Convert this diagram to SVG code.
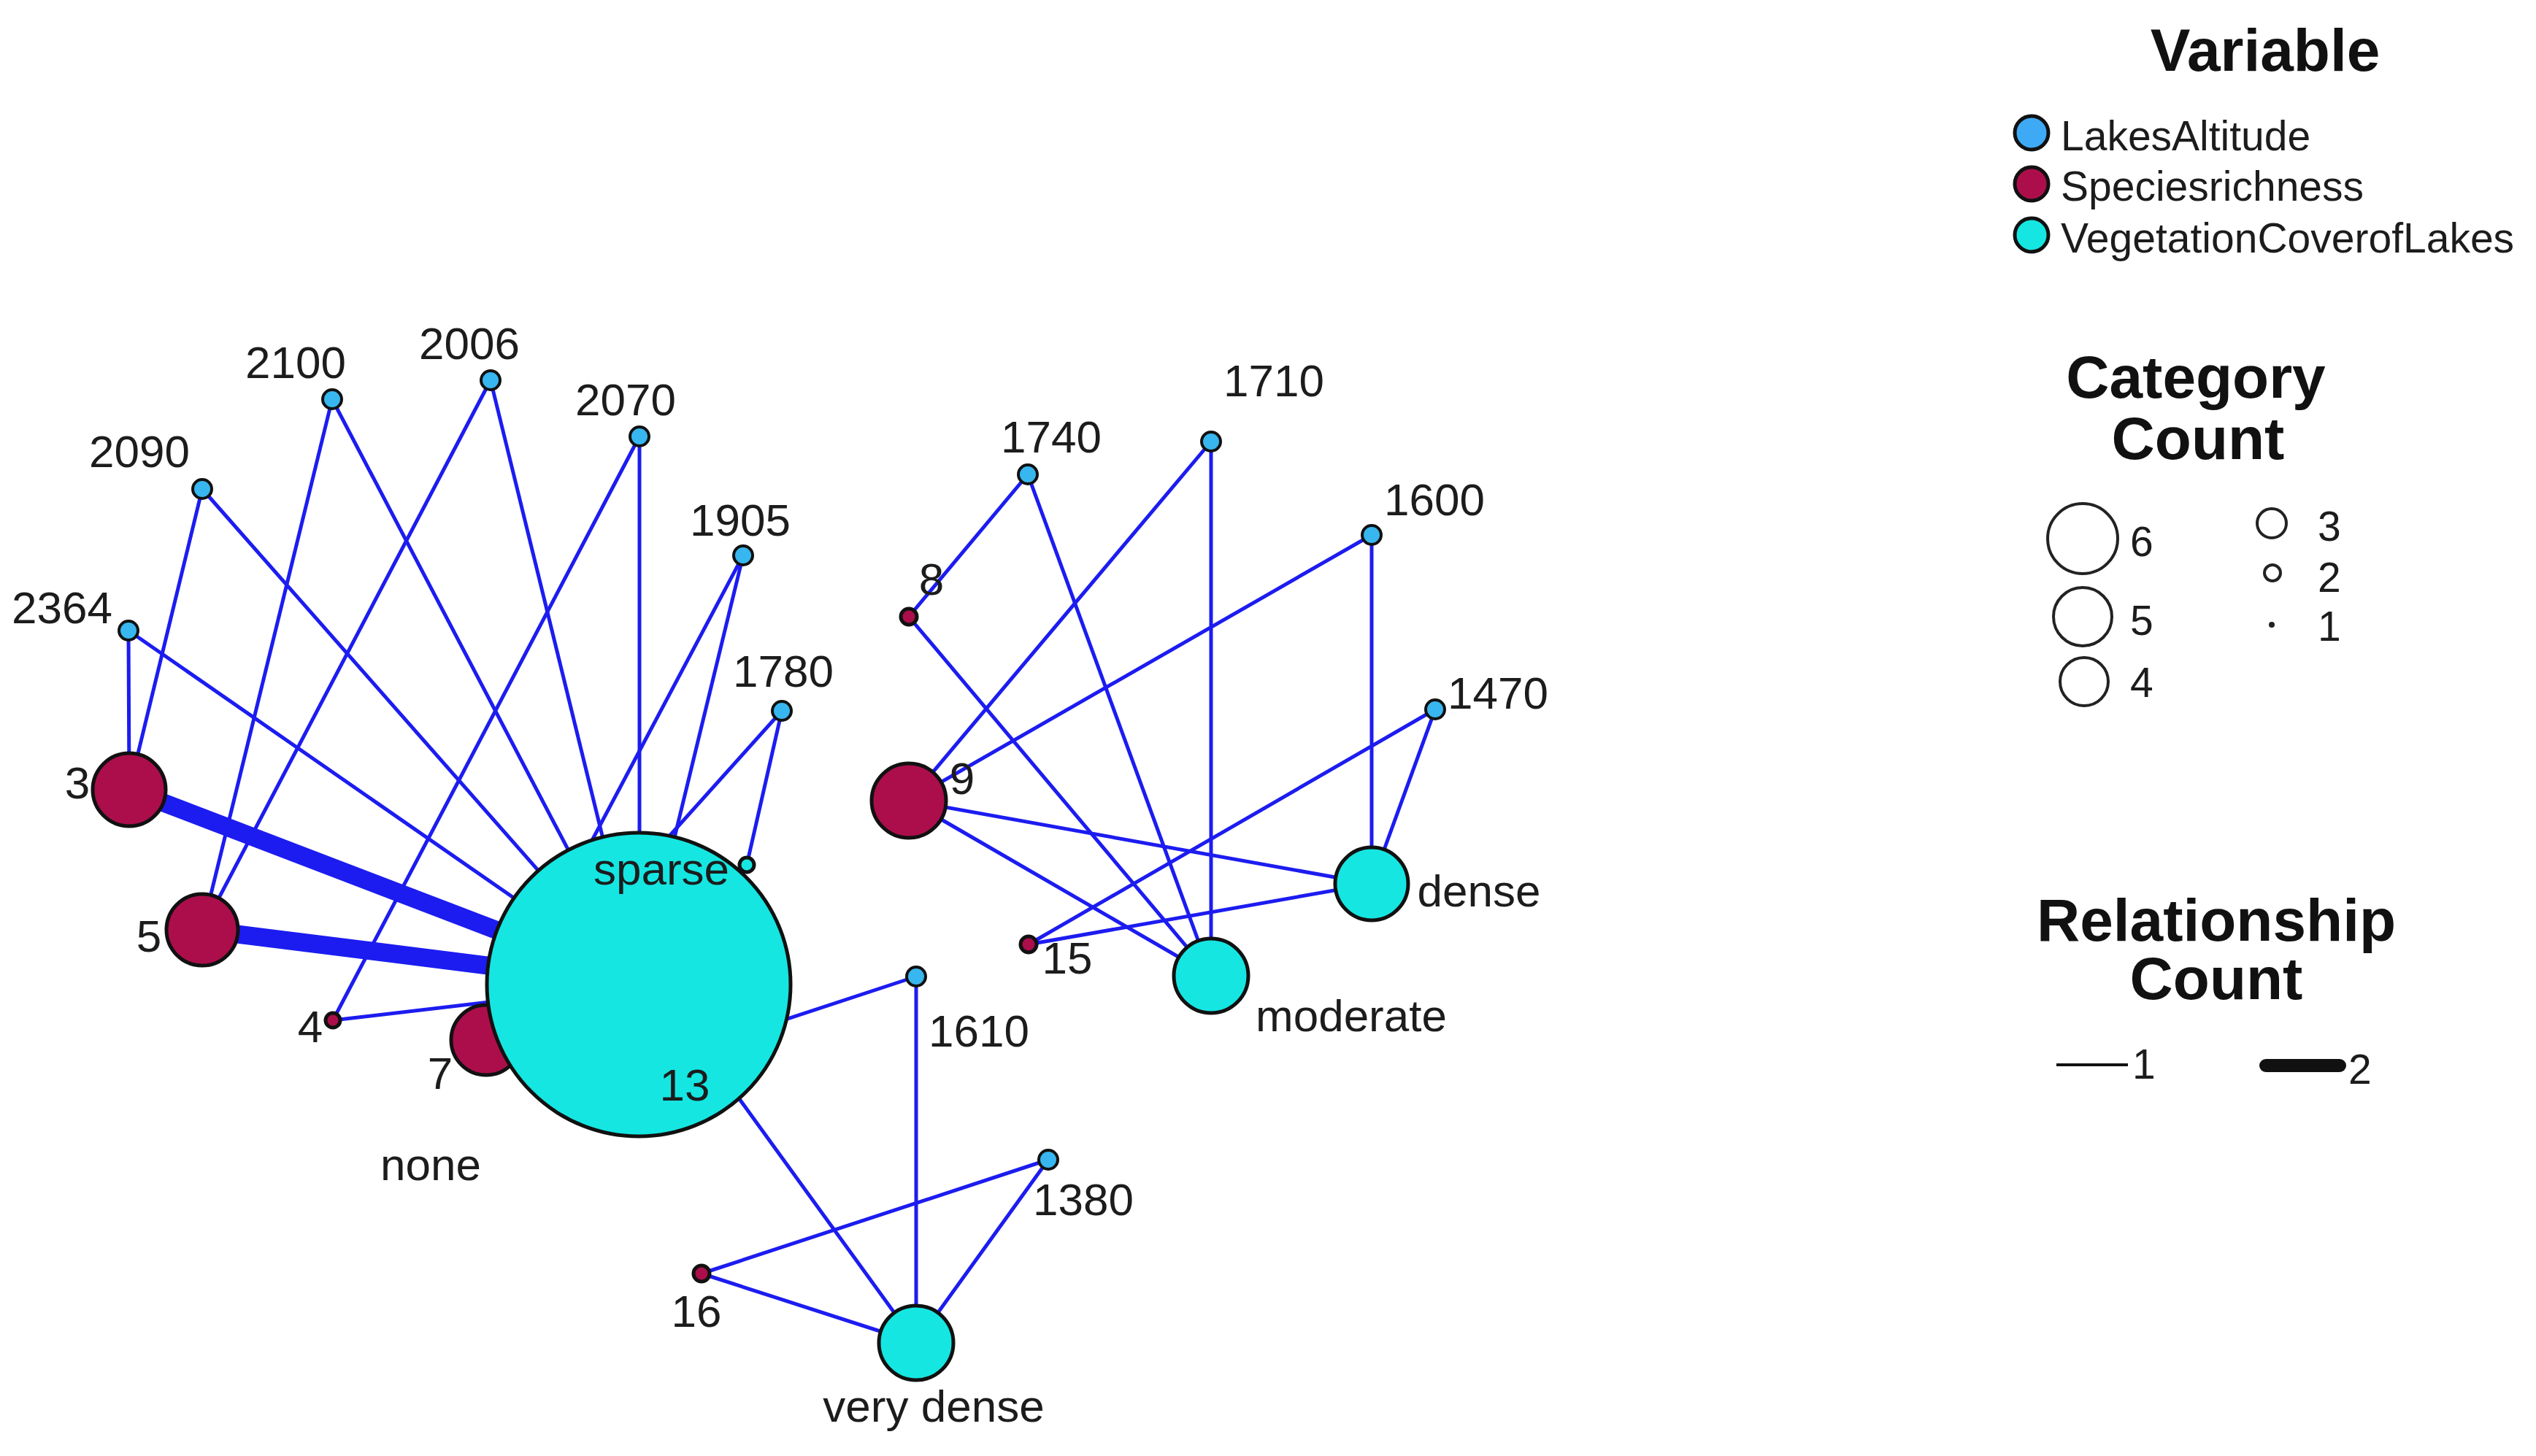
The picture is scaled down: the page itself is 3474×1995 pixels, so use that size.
<svg xmlns="http://www.w3.org/2000/svg" width="3474" height="1995" viewBox="0 0 3474 1995">
<style>
.e{stroke:#1c1cf0;stroke-width:5;fill:none}
.t{stroke:#1c1cf0;stroke-width:25;fill:none}
.alt{fill:#38b6ef;stroke:#111;stroke-width:4}
.sp{fill:#ac0e4c;stroke:#111;stroke-width:5}
.veg{fill:#15e6e2;stroke:#111;stroke-width:5}
.lb{font-family:"Liberation Sans",Arial,sans-serif;font-size:62px;fill:#1c1c1c;text-anchor:middle}
.lg{font-family:"Liberation Sans",Arial,sans-serif;font-size:57px;fill:#1c1c1c}
.ttl{font-family:"Liberation Sans",Arial,sans-serif;font-size:82px;font-weight:bold;fill:#111;text-anchor:middle}
.cc{fill:none;stroke:#222;stroke-width:4}
.ln{font-family:"Liberation Sans",Arial,sans-serif;font-size:57px;fill:#1c1c1c}
</style>
<rect width="3474" height="1995" fill="#fff"/>
<g id="connectors">
<line class="e" x1="176" y1="864" x2="177" y2="1082"/>
<line class="e" x1="176" y1="864" x2="875" y2="1349"/>
<line class="e" x1="277" y1="670" x2="177" y2="1082"/>
<line class="e" x1="277" y1="670" x2="875" y2="1349"/>
<line class="e" x1="455" y1="547" x2="277" y2="1274"/>
<line class="e" x1="455" y1="547" x2="875" y2="1349"/>
<line class="e" x1="672" y1="521" x2="277" y2="1274"/>
<line class="e" x1="672" y1="521" x2="875" y2="1349"/>
<line class="e" x1="876" y1="598" x2="456" y2="1398"/>
<line class="e" x1="876" y1="598" x2="876" y2="1349"/>
<line class="e" x1="1018" y1="761" x2="875" y2="1349"/>
<line class="e" x1="1018" y1="761" x2="666" y2="1425"/>
<line class="e" x1="1071" y1="974" x2="666" y2="1425"/>
<line class="e" x1="1071" y1="974" x2="1023" y2="1185"/>
<line class="e" x1="456" y1="1398" x2="875" y2="1349"/>
<line class="t" x1="177" y1="1082" x2="875" y2="1349"/>
<line class="t" x1="277" y1="1274" x2="875" y2="1349"/>
<line class="e" x1="930" y1="1445" x2="1255" y2="1338"/>
<line class="e" x1="900" y1="1350" x2="1255" y2="1840"/>
<line class="e" x1="1255" y1="1338" x2="1255" y2="1840"/>
<line class="e" x1="1436" y1="1589" x2="1255" y2="1840"/>
<line class="e" x1="1436" y1="1589" x2="961" y2="1745"/>
<line class="e" x1="961" y1="1745" x2="1255" y2="1840"/>
<line class="e" x1="1408" y1="650" x2="1245" y2="845"/>
<line class="e" x1="1408" y1="650" x2="1659" y2="1337"/>
<line class="e" x1="1659" y1="605" x2="1245" y2="1097"/>
<line class="e" x1="1659" y1="605" x2="1659" y2="1337"/>
<line class="e" x1="1879" y1="733" x2="1245" y2="1097"/>
<line class="e" x1="1879" y1="733" x2="1879" y2="1211"/>
<line class="e" x1="1966" y1="972" x2="1409" y2="1294"/>
<line class="e" x1="1966" y1="972" x2="1879" y2="1211"/>
<line class="e" x1="1245" y1="845" x2="1659" y2="1337"/>
<line class="e" x1="1245" y1="1097" x2="1879" y2="1211"/>
<line class="e" x1="1245" y1="1097" x2="1659" y2="1337"/>
<line class="e" x1="1409" y1="1294" x2="1879" y2="1211"/>
</g>
<g id="n-2364"><circle class="alt" cx="176" cy="864" r="13"/><text class="lb" x="85" y="854">2364</text></g>
<g id="n-2090"><circle class="alt" cx="277" cy="670" r="13"/><text class="lb" x="191" y="640">2090</text></g>
<g id="n-2100"><circle class="alt" cx="455" cy="547" r="13"/><text class="lb" x="405" y="518">2100</text></g>
<g id="n-2006"><circle class="alt" cx="672" cy="521" r="13"/><text class="lb" x="643" y="492">2006</text></g>
<g id="n-2070"><circle class="alt" cx="876" cy="598" r="13"/><text class="lb" x="857" y="569">2070</text></g>
<g id="n-1905"><circle class="alt" cx="1018" cy="761" r="13"/><text class="lb" x="1014" y="734">1905</text></g>
<g id="n-1780"><circle class="alt" cx="1071" cy="974" r="13"/><text class="lb" x="1073" y="941">1780</text></g>
<g id="n-3"><circle class="sp" cx="177" cy="1082" r="50"/><text class="lb" x="106" y="1094">3</text></g>
<g id="n-5"><circle class="sp" cx="277" cy="1274" r="49"/><text class="lb" x="204" y="1304">5</text></g>
<g id="n-4"><circle class="sp" cx="456" cy="1398" r="10" stroke-width="3"/><text class="lb" x="425" y="1428">4</text></g>
<g id="n-7"><circle class="sp" cx="666" cy="1425" r="48"/><text class="lb" x="603" y="1492">7</text></g>
<g id="n-sparse"><circle class="veg" cx="875" cy="1349" r="208"/><text class="lb" x="906" y="1212" font-size="63">sparse</text></g>
<g id="n-13"><text class="lb" x="938" y="1508">13</text></g>
<g id="n-none"><circle class="veg" cx="1023" cy="1185" r="10" stroke-width="3"/><text class="lb" x="590" y="1617" font-size="63">none</text></g>
<g id="n-1610"><circle class="alt" cx="1255" cy="1338" r="13"/><text class="lb" x="1341" y="1434">1610</text></g>
<g id="n-1380"><circle class="alt" cx="1436" cy="1589" r="13"/><text class="lb" x="1484" y="1665">1380</text></g>
<g id="n-16"><circle class="sp" cx="961" cy="1745" r="11" stroke-width="3"/><text class="lb" x="954" y="1818">16</text></g>
<g id="n-verydense"><circle class="veg" cx="1255" cy="1840" r="51"/><text class="lb" x="1279" y="1948" font-size="63">very dense</text></g>
<g id="n-1740"><circle class="alt" cx="1408" cy="650" r="13"/><text class="lb" x="1440" y="620">1740</text></g>
<g id="n-1710"><circle class="alt" cx="1659" cy="605" r="13"/><text class="lb" x="1745" y="543">1710</text></g>
<g id="n-1600"><circle class="alt" cx="1879" cy="733" r="13"/><text class="lb" x="1965" y="706">1600</text></g>
<g id="n-1470"><circle class="alt" cx="1966" cy="972" r="13"/><text class="lb" x="2052" y="971">1470</text></g>
<g id="n-8"><circle class="sp" cx="1245" cy="845" r="11" stroke-width="3"/><text class="lb" x="1276" y="815">8</text></g>
<g id="n-9"><circle class="sp" cx="1245" cy="1097" r="51"/><text class="lb" x="1318" y="1088">9</text></g>
<g id="n-15"><circle class="sp" cx="1409" cy="1294" r="11" stroke-width="3"/><text class="lb" x="1462" y="1334">15</text></g>
<g id="n-dense"><circle class="veg" cx="1879" cy="1211" r="50"/><text class="lb" x="2026" y="1242" font-size="63">dense</text></g>
<g id="n-moderate"><circle class="veg" cx="1659" cy="1337" r="51"/><text class="lb" x="1851" y="1413" font-size="63">moderate</text></g>
<g id="legend-variable">
<text class="ttl" x="3103" y="97">Variable</text>
<circle cx="2783" cy="182" r="23" fill="#3eaaf5" stroke="#111" stroke-width="5"/>
<text class="lg" x="2823" y="206">LakesAltitude</text>
<circle cx="2783" cy="252" r="23" fill="#ac0e4c" stroke="#111" stroke-width="5"/>
<text class="lg" x="2823" y="275">Speciesrichness</text>
<circle cx="2783" cy="322" r="23" fill="#15e6e2" stroke="#111" stroke-width="5"/>
<text class="lg" x="2823" y="346">VegetationCoverofLakes</text>
</g>
<g id="legend-category">
<text class="ttl" x="3008" y="545">Category</text>
<text class="ttl" x="3011" y="629">Count</text>
<circle class="cc" cx="2853" cy="738" r="48"/><text class="ln" x="2918" y="762">6</text>
<circle class="cc" cx="2853" cy="845" r="40"/><text class="ln" x="2918" y="870">5</text>
<circle class="cc" cx="2855" cy="934" r="33"/><text class="ln" x="2918" y="955">4</text>
<circle class="cc" cx="3112" cy="717" r="20"/><text class="ln" x="3175" y="741">3</text>
<circle class="cc" cx="3113" cy="785" r="11"/><text class="ln" x="3175" y="811">2</text>
<circle cx="3112" cy="856" r="4" fill="#222"/><text class="ln" x="3175" y="878">1</text>
</g>
<g id="legend-relationship">
<text class="ttl" x="3036" y="1289">Relationship</text>
<text class="ttl" x="3036" y="1369">Count</text>
<line x1="2817" y1="1459" x2="2915" y2="1459" stroke="#111" stroke-width="4"/>
<text class="ln" x="2921" y="1478">1</text>
<line x1="3104" y1="1460" x2="3205" y2="1460" stroke="#111" stroke-width="18" stroke-linecap="round"/>
<text class="ln" x="3217" y="1485">2</text>
</g>
</svg>
